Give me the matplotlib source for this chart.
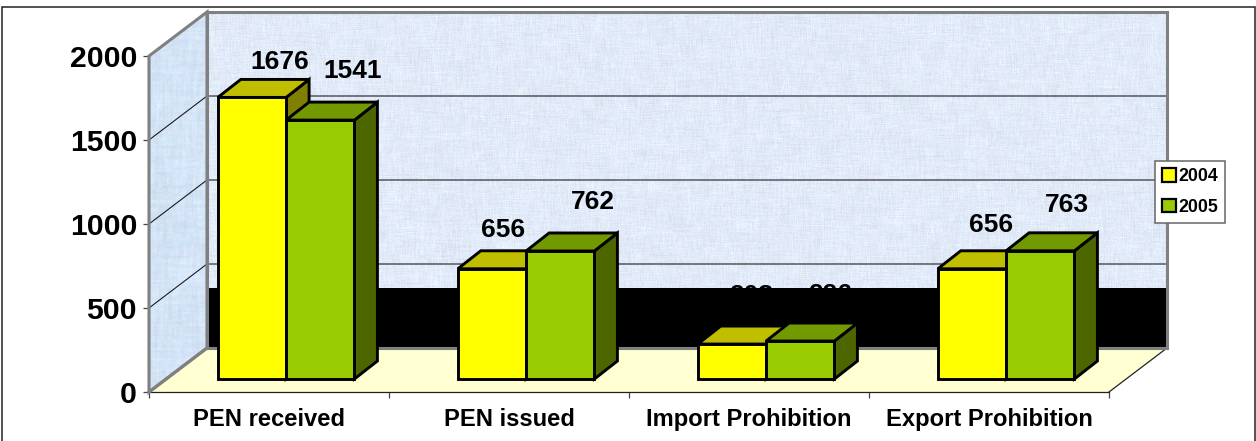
"""Grouped pseudo-3D column chart, 2004 vs 2005 notifications."""
import numpy as np
import matplotlib
matplotlib.use("Agg")
import matplotlib.pyplot as plt
from matplotlib.patches import Patch, Polygon, Rectangle

plt.rcParams["font.family"] = ["Liberation Sans", "DejaVu Sans"]

categories = ["PEN received", "PEN issued", "Import Prohibition", "Export Prohibition"]
values_2004 = [1676, 656, 208, 656]
values_2005 = [1541, 762, 226, 763]
series_names = ["2004", "2005"]
y_ticks = [0, 500, 1000, 1500, 2000]

YELLOW = ("#FFFF00", "#BFBF00", "#808000")   # front, top, side
GREEN = ("#99CC00", "#739900", "#4D6600")
WALL_GREY = "#808080"
FLOOR = "#FFFFD2"

# axis scale: 240 px per category, 0.168 px per unit
PX_X = 240.0
PX_Y = 0.168
WALL_DX, WALL_DY = 58 / PX_X, 44 / PX_Y    # depth of the whole box
BAR_DX, BAR_DY = 23 / PX_X, 18 / PX_Y      # depth of a column
BAR_BASE = 13 / PX_Y                       # columns sit on the floor, behind the front edge
BAR_W = 68.3 / PX_X
BAR_START = 68.8 / PX_X
BAND_H = 60 / PX_Y

# label offsets in px from the centre of the column's front top edge
LABEL_DX = [[28, 32], [11, 33], [19, 30], [19, 27]]
LABEL_DY = [[35, 49], [39, 49], [48, 46], [44, 46]]


def wall_texture(shape, base, seed):
    # soft mottled surface for the walls
    rng = np.random.default_rng(seed)
    noise = rng.normal(0, 1, shape)
    blur = noise.copy()
    for k in range(1, 7):
        blur += np.roll(noise, k, 0) + np.roll(noise, -k, 1) + np.roll(noise, k, 1) + np.roll(noise, 2 * k, 0)
    blur = blur / blur.std()
    tex = np.zeros(shape + (3,))
    for c in range(3):
        fine = rng.normal(0, 1, shape)
        tex[..., c] = base[c] + 0.016 * blur + 0.012 * fine
    return np.clip(tex, 0, 1)


def draw_column(ax, x0, value, colors):
    x1 = x0 + BAR_W
    y0, y1 = BAR_BASE, BAR_BASE + value
    edge = dict(edgecolor="black", linewidth=2.1, joinstyle="miter", clip_on=False, zorder=6)
    ax.add_patch(Polygon([(x1, y0), (x1 + BAR_DX, y0 + BAR_DY), (x1 + BAR_DX, y1 + BAR_DY), (x1, y1)],
                         facecolor=colors[2], **edge))
    ax.add_patch(Polygon([(x0, y1), (x0 + BAR_DX, y1 + BAR_DY), (x1 + BAR_DX, y1 + BAR_DY), (x1, y1)],
                         facecolor=colors[1], **edge))
    ax.add_patch(Polygon([(x0, y0), (x1, y0), (x1, y1), (x0, y1)],
                         facecolor=colors[0], **edge))


fig = plt.figure(figsize=(12.56, 4.41), dpi=100, facecolor="white")
ax = fig.add_axes([149 / 1256, (441 - 392) / 441, 960 / 1256, 336 / 441])
ax.set_facecolor("none")

n = len(categories)
top = y_ticks[-1]

# back wall
back = Polygon([(WALL_DX, WALL_DY), (n + WALL_DX, WALL_DY), (n + WALL_DX, top + WALL_DY), (WALL_DX, top + WALL_DY)],
               facecolor="none", edgecolor=WALL_GREY, linewidth=2.2, clip_on=False, zorder=3)
ax.add_patch(back)
im = ax.imshow(wall_texture((340, 960), (0.885, 0.92, 0.975), 4), aspect="auto", interpolation="nearest",
               extent=(WALL_DX, n + WALL_DX, WALL_DY, top + WALL_DY), zorder=1)
im.set_clip_box(fig.bbox)
im.set_clip_path(back)

# side wall
side = Polygon([(0, 0), (WALL_DX, WALL_DY), (WALL_DX, top + WALL_DY), (0, top)],
               facecolor="none", edgecolor=WALL_GREY, linewidth=2.2, clip_on=False, zorder=3)
ax.add_patch(side)
im2 = ax.imshow(wall_texture((190, 30), (0.83, 0.895, 0.965), 9), aspect="auto", interpolation="bilinear",
                extent=(0, WALL_DX, 0, top + WALL_DY), zorder=1)
im2.set_clip_box(fig.bbox)
im2.set_clip_path(side)

# dark band along the foot of the back wall
ax.add_patch(Rectangle((WALL_DX, WALL_DY), n, BAND_H, facecolor="black", edgecolor="none",
                       clip_on=False, zorder=2))

# floor
ax.add_patch(Polygon([(0, 0), (WALL_DX, WALL_DY), (n + WALL_DX, WALL_DY), (n, 0)],
                     facecolor=FLOOR, edgecolor="none", clip_on=False, zorder=2))
ax.plot([n, n + WALL_DX], [0, WALL_DY], color="#222222", lw=0.9, clip_on=False, zorder=4)
ax.plot([WALL_DX, n + WALL_DX], [WALL_DY, WALL_DY], color=WALL_GREY, lw=2.2, clip_on=False, zorder=4)
ax.plot([0, WALL_DX], [0, WALL_DY], color=WALL_GREY, lw=2.2, clip_on=False, zorder=4)

# gridlines across both walls
for tick in y_ticks[1:-1]:
    ax.plot([0, WALL_DX, n + WALL_DX], [tick, tick + WALL_DY, tick + WALL_DY],
            color="#111111", lw=0.75, clip_on=False, zorder=2.5)

# columns and value labels
for i in range(n):
    x_a = i + BAR_START
    x_b = x_a + BAR_W
    draw_column(ax, x_a, values_2004[i], YELLOW)
    draw_column(ax, x_b, values_2005[i], GREEN)
    for j, (x0, v) in enumerate([(x_a, values_2004[i]), (x_b, values_2005[i])]):
        ax.annotate(str(v), xy=(x0 + BAR_W / 2, BAR_BASE + v),
                    xytext=(LABEL_DX[i][j] * 0.72, LABEL_DY[i][j] * 0.72), textcoords="offset points",
                    ha="center", va="center", fontsize=19, fontweight="bold", color="black",
                    annotation_clip=False, zorder=5)

ax.set_xlim(0, n)
ax.set_ylim(0, top)

ax.set_yticks(y_ticks)
ax.tick_params(axis="y", labelsize=21.7, length=4.3, width=0.9, color="#444444", pad=4.3)
ax.set_xticks(range(n + 1), [""] * (n + 1))
ax.set_xticks(np.arange(n) + 0.5, categories, minor=True)
ax.tick_params(axis="x", which="major", length=4.3, width=0.9, color="#444444")
ax.tick_params(axis="x", which="minor", length=0, labelsize=17.1, pad=11.5)
for lab in ax.get_yticklabels() + ax.get_xticklabels(minor=True):
    lab.set_fontweight("bold")
    lab.set_color("black")

for name in ("top", "right"):
    ax.spines[name].set_visible(False)
ax.spines["left"].set_color(WALL_GREY)
ax.spines["left"].set_linewidth(1.5)
ax.spines["bottom"].set_color("#222222")
ax.spines["bottom"].set_linewidth(0.9)

handles = [Patch(facecolor=YELLOW[0], edgecolor="black", linewidth=1.6),
           Patch(facecolor=GREEN[0], edgecolor="black", linewidth=1.6)]
leg = fig.legend(handles, series_names, loc="center", bbox_to_anchor=(1190 / 1256, 1 - 192 / 441),
                 prop={"weight": "bold", "size": 12.8}, fancybox=False,
                 framealpha=1, edgecolor="#666666", handlelength=0.8, handleheight=0.8,
                 handletextpad=0.15, labelspacing=0.75, borderpad=0.4, borderaxespad=0)
leg.get_frame().set_linewidth(1.1)
leg.set_zorder(10)

# outer chart frame
fig.add_artist(Rectangle((1.5 / 1256, -0.01), 1253.5 / 1256, 1.01 - 6.5 / 441, transform=fig.transFigure,
                         fill=False, edgecolor="#222222", linewidth=1.1))

fig.savefig("out.png", dpi=100, facecolor="white")
